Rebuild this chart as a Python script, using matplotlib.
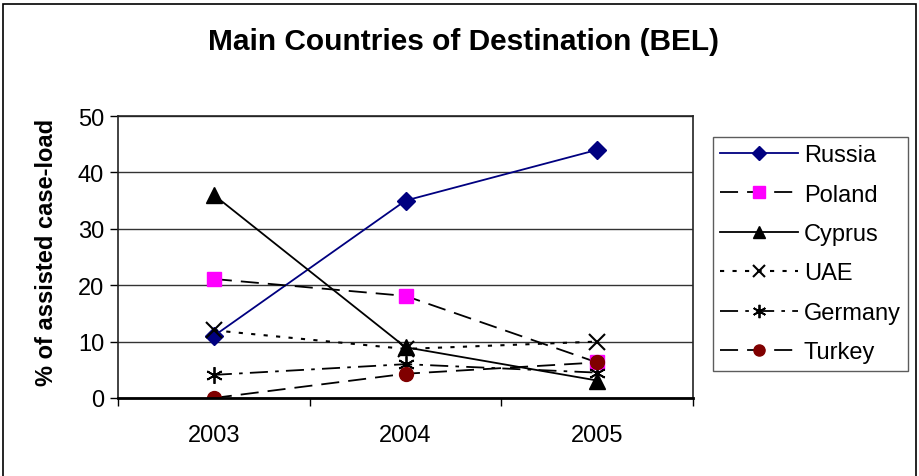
import numpy as np
import matplotlib
matplotlib.use('Agg')
import matplotlib.pyplot as plt
from matplotlib.patches import Rectangle

plt.rcParams.update({
    'font.family': ['Liberation Sans', 'DejaVu Sans'],
    'font.size': 17,
})

years = ['2003', '2004', '2005']
russia = [11, 35, 44]
poland = [21.1, 18.1, 6.3]
cyprus = [36, 9, 3.1]
uae = [12, 8.7, 10]
germany = [4.1, 6.0, 4.5]
turkey = [0, 4.3, 6.3]

W, H = 919, 477
fig = plt.figure(figsize=(W / 100, H / 100), dpi=100)

# rahmen um die ganze grafik
fig.add_artist(Rectangle((3 / W, -0.01), 913 / W, 1.0, transform=fig.transFigure,
                         fill=False, edgecolor='black', lw=1.2))

ax = fig.add_axes([118 / W, (H - 399) / H, 575 / W, 282 / H])
x = np.arange(len(years))

ax.plot(x, russia, color='#000080', lw=1.3, marker='D', ms=9, label='Russia')
ax.plot(x, poland, color='black', lw=1.3, ls=(0, (10, 5)), marker='s', ms=10,
        mfc='#ff00ff', mec='#ff00ff', label='Poland')
ax.plot(x, cyprus, color='black', lw=1.3, marker='^', ms=11, label='Cyprus')
ax.plot(x, uae, color='black', lw=1.5, ls=(0, (2, 4)), marker='x', ms=11, mew=1.5,
        label='UAE')
ax.plot(x, germany, color='black', lw=1.3, ls=(0, (10, 4, 2, 4)), marker=(6, 2, 0), ms=12,
        mew=1.3, label='Germany')
ax.plot(x, turkey, color='black', lw=1.3, ls=(0, (10, 5)), marker='o', ms=10,
        mfc='#800000', mec='#800000', label='Turkey')

ax.set_xlim(-0.5, 2.5)
ax.set_ylim(0, 50)
ax.set_yticks(np.arange(0, 51, 10))
ax.yaxis.grid(True, color='#333333', lw=1)
ax.set_axisbelow(True)
ax.set_xticks([-0.5, 0.5, 1.5, 2.5])
ax.set_xticklabels([])
ax.set_xticks(x, minor=True)
ax.set_xticklabels(years, minor=True)
ax.tick_params(axis='x', which='major', direction='out', length=6, width=1)
ax.tick_params(axis='x', which='minor', length=0, pad=19, labelsize=17)
ax.tick_params(axis='y', direction='out', length=6, width=1, pad=4, labelsize=17)
for s in ax.spines.values():
    s.set_color('#222222')
    s.set_linewidth(1.2)
ax.spines['bottom'].set_linewidth(2)
ax.spines['bottom'].set_color('black')

ax.set_ylabel('% of assisted case-load', fontweight='bold', fontsize=17)
ax.yaxis.set_label_coords((58 - 118) / 575, (399 - 252) / 282)
fig.text(463 / W, 1 - 42 / H, 'Main Countries of Destination (BEL)', ha='center',
         va='center', fontsize=21.5, fontweight='bold')

leg = fig.legend(loc='upper left', bbox_to_anchor=(713 / W, 1 - 138 / H),
                 borderaxespad=0, frameon=True, fancybox=False, edgecolor='#333333',
                 handlelength=3.3, labelspacing=0.74, borderpad=0.3,
                 handletextpad=0.25, fontsize=17, markerscale=0.8)
leg.get_frame().set_linewidth(1)

fig.savefig('out.png', dpi=100, facecolor='white')
